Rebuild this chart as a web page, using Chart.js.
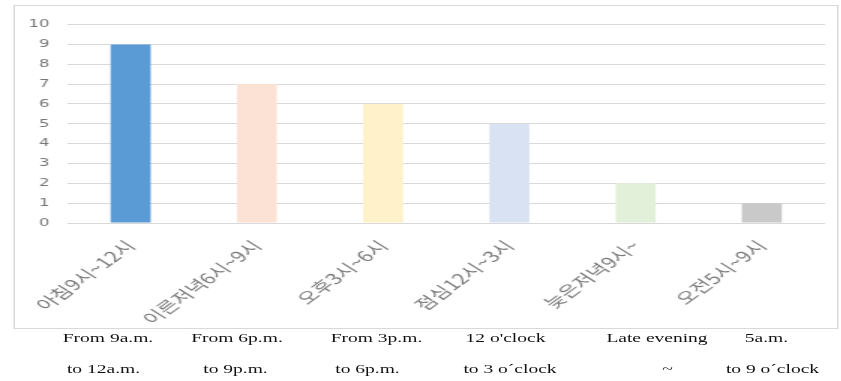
<!DOCTYPE html>
<html>
<head>
<meta charset="utf-8">
<script src="https://cdn.jsdelivr.net/npm/chart.js@4.4.1/dist/chart.umd.min.js"></script>
<style>
  html, body { margin: 0; padding: 0; background: #fff; }
  /* the whole figure is laid out narrow and widened 1.5x */
  #page { position: relative; width: 561px; height: 381px; transform: scaleX(1.5); transform-origin: 0 0; }
  #chart-box { position: absolute; left: 9px; top: 5px; width: 548px; height: 322px; border: 1px solid #d9d9d9; }
  .caption { position: absolute; font-family: "Liberation Serif", "Times New Roman", serif; font-size: 13px; line-height: 15px; color: #111; white-space: nowrap; transform: translateX(-50%); }
</style>
</head>
<body>
<div id="page">
  <div id="chart-box"><canvas id="time-chart"></canvas></div>
</div>
<script>
const categories = ['아침9시~12시', '이른저녁6시~9시', '오후3시~6시', '점심12시~3시', '늦은저녁9시~', '오전5시~9시'];
const respondents = [9, 7, 6, 5, 2, 1];
const barColors = ['#5b9bd5', '#fbe2d4', '#fff1c9', '#d9e2f3', '#e2f0d9', '#c9c9c9'];
const yMin = 0;
const yMax = 10;
const yStep = 1;

// english glosses printed under the chart, two lines per category
const captionFirst = ['From 9a.m.', 'From 6p.m.', 'From 3p.m.', "12 o'clock", 'Late evening', '5a.m.'];
const captionSecond = ['to 12a.m.', 'to 9p.m.', 'to 6p.m.', 'to 3 o´clock', '~', 'to 9 o´clock'];
const captionFirstX = [72, 158, 251, 337, 438, 511];
const captionSecondX = [69, 157, 245, 340, 445, 515];

function addCaptions(texts, xs, top) {
    const page = document.getElementById('page');
    texts.forEach(function (text, i) {
        const el = document.createElement('div');
        el.className = 'caption';
        el.textContent = text;
        el.style.left = xs[i] + 'px';
        el.style.top = top + 'px';
        page.appendChild(el);
    });
}

addCaptions(captionFirst, captionFirstX, 330);
addCaptions(captionSecond, captionSecondX, 361);

new Chart(document.getElementById('time-chart').getContext('2d'), {
    type: 'bar',
    data: {
        labels: categories,
        datasets: [{
            data: respondents,
            backgroundColor: barColors,
            borderWidth: 0,
            categoryPercentage: 1,
            barPercentage: 0.317
        }]
    },
    options: {
        responsive: true,
        maintainAspectRatio: false,
        animation: false,
        layout: {
            padding: { top: 10, right: 8, left: 0, bottom: 0 }
        },
        plugins: {
            legend: { display: false },
            tooltip: { enabled: false }
        },
        scales: {
            x: {
                grid: { display: false },
                border: { display: false },
                ticks: {
                    color: '#7a7a7a',
                    font: { family: '"Noto Sans CJK KR", sans-serif', size: 15 },
                    minRotation: 47,
                    maxRotation: 47,
                    padding: 6,
                    autoSkip: false
                },
                afterFit: function (scale) {
                    scale.height = 105;
                    scale.paddingLeft = 0;
                    scale.paddingRight = 0;
                }
            },
            y: {
                min: yMin,
                max: yMax,
                grid: { color: '#d9d9d9', drawTicks: false },
                border: { display: false },
                ticks: {
                    stepSize: yStep,
                    color: '#767676',
                    font: { family: '"DejaVu Sans", sans-serif', size: 11 },
                    padding: 12
                },
                afterFit: function (scale) {
                    scale.width = 35;
                }
            }
        }
    }
});
</script>
</body>
</html>
